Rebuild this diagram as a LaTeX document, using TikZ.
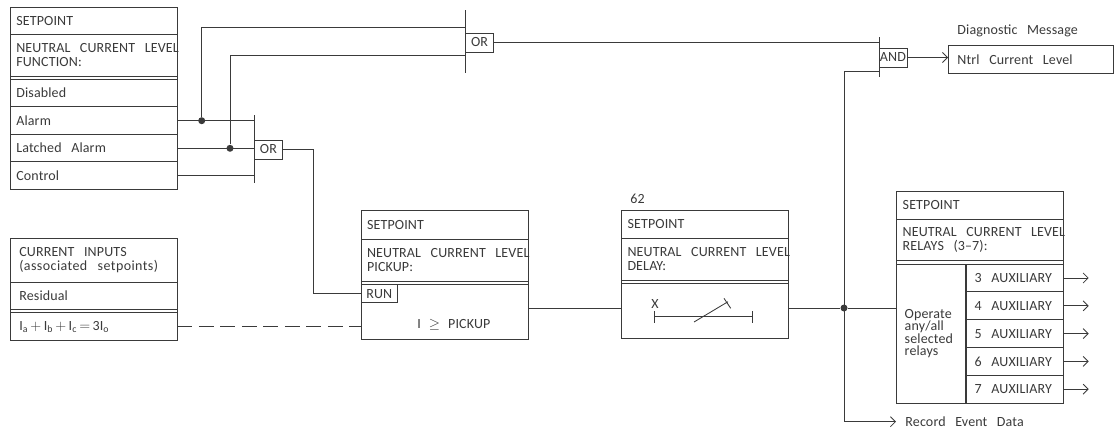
\documentclass[tikz,border=0pt]{standalone}
\usepackage{xcolor}
\usepackage{fontspec}
\setmainfont[WordSpace=2.9,LetterSpace=1]{Carlito}
\usetikzlibrary{arrows.meta,positioning}
\definecolor{Wire}{HTML}{3A3A3A}
\begin{document}
\begin{tikzpicture}[x=1pt,y=-1pt,node distance=0pt,line width=.85pt,draw=Wire,text=Wire,
        n/.style={draw=Wire,text width=155pt,inner xsep=6pt,inner ysep=0pt,outer sep=0pt,align=flush left,font=\fontsize{14}{14}\selectfont,minimum height=27.5pt},
        ci/.style={n,text width=149pt,inner xsep=9pt},
        sp/.style={draw=Wire,minimum width=167pt,minimum height=3.4pt,inner sep=0pt,outer sep=0pt},
        aux/.style={n,text width=81pt,inner xsep=8pt,minimum height=27.8pt},
        g/.style={draw=Wire,minimum width=28pt,minimum height=19pt,inner sep=0pt,outer sep=0pt,font=\fontsize{14}{14}\selectfont},
        t/.style={inner sep=0pt,anchor=west,font=\fontsize{14}{14}\selectfont},
        j/.style={circle,fill=Wire,inner sep=0pt,minimum size=7pt},
        a/.style={-{Straight Barb[length=5pt,width=10pt]}}]
        \useasboundingbox (0,0) rectangle (1119,429);
        \node[n,anchor=north west] (s1) at (10.3,7) {SETPOINT};
        \node[n,minimum height=41.5pt,below=of s1] (s2) {\mbox{NEUTRAL CURRENT LEVEL}\\FUNCTION:};
        \node[sp,below=of s2] (s3) {};
        \node[n,below=of s3] (dis) {Disabled};
        \node[n,below=of dis] (alm) {Alarm};
        \node[n,below=of alm] (lat) {Latched Alarm};
        \node[n,below=of lat] (ctl) {Control};
        \node[ci,minimum height=44pt,anchor=north west] (c1) at (10.3,238) {CURRENT INPUTS\\{\addfontfeature{LetterSpace=3}(associated setpoints)}};
        \node[ci,below=of c1] (c2) {Residual};
        \node[sp,below=of c2] (c3) {};
        \node[ci,below=of c3] (c4) {$\mathrm{I}_{\mathrm{a}}\,{+}\,\mathrm{I}_{\mathrm{b}}\,{+}\,\mathrm{I}_{\mathrm{c}}\,{=}\,\mathrm{3I}_{\mathrm{o}}$};
        \node[n,anchor=north west,minimum height=28.5pt] (p1) at (361,210.5) {SETPOINT};
        \node[n,minimum height=42.5pt,below=of p1] (p2) {\mbox{NEUTRAL CURRENT LEVEL}\\PICKUP:};
        \node[sp,below=of p2] (p3) {};
        \node[n,minimum height=55pt,below=of p3] (p4) {};
        \node[g,minimum width=36.5pt,minimum height=17.5pt,anchor=north west] (run) at (p4.north west) {RUN};
        \node[t] (ipk) at (417,325) {I\hspace{8pt}$\geq$\hspace{8pt}PICKUP};
        \node[n,anchor=north west,minimum height=27.5pt] (d1) at (621.5,210.5) {SETPOINT};
        \node[n,minimum height=42pt,below=of d1] (d2) {\mbox{NEUTRAL CURRENT LEVEL}\\DELAY:};
        \node[sp,below=of d2] (d3) {};
        \node[n,minimum height=55pt,below=of d3] (d4) {};
        \node[t] (n62) at (630,199) {62};
        \node[t,anchor=center] (x) at (655,304) {X};
        \node[n,anchor=north west] (r1) at (896.7,191.7) {SETPOINT};
        \node[n,minimum height=41.5pt,below=of r1] (r2) {\mbox{NEUTRAL CURRENT LEVEL}\\RELAYS (3--7):};
        \node[sp,below=of r2] (r3) {};
        \node[aux,anchor=north east] (a3) at (r3.south east) {3 AUXILIARY};
        \node[aux,below=of a3] (a4) {4 AUXILIARY};
        \node[aux,below=of a4] (a5) {5 AUXILIARY};
        \node[aux,below=of a5] (a6) {6 AUXILIARY};
        \node[aux,below=of a6] (a7) {7 AUXILIARY};
        \node[draw=Wire,outer sep=0pt,inner xsep=8pt,inner ysep=0pt,anchor=north west,minimum width=69.2pt,minimum height=139pt,align=flush left,text width=53.2pt,font=\fontsize{14}{12.5}\selectfont] (op) at (r3.south west) {Operate\\any/all\\selected\\relays};
        \node[draw=Wire,outer sep=0pt,minimum width=165pt,minimum height=28.5pt,inner sep=0pt,anchor=north west] (nt) at (948,45) {};
        \node[t] (ntx) at (957,60) {Ntrl Current Level};
        \node[t] (dg) at (957,31) {Diagnostic Message};
        \node[t] (rec) at (905,421.5) {Record Event Data};
        \node[g] (or1) at (268.5,149.5) {OR};
        \node[g] (or2) at (479.5,42.5) {OR};
        \node[g] (and) at (893,57.5) {AND};
        \node[j] (j1) at (201.7,120.7) {};
        \node[j] (j2) at (230,148.3) {};
        \node[j] (j3) at (844,308) {};
        \coordinate (b1t) at (254.5,115); \coordinate (b1b) at (254.5,183);
        \coordinate (b2t) at (465.5,10); \coordinate (b2b) at (465.5,73);
        \coordinate (b3t) at (879,37); \coordinate (b3b) at (879,77);
        \coordinate (w1) at (201.7,27.7); \coordinate (w2) at (230,55.7);
        \coordinate (w3) at (313,149.5); \coordinate (w4) at (844,71.5);
        \coordinate (w5) at (844,421.7); \coordinate (w6) at (896,421.7);
        \draw (b1t)--(b1b); \draw (b2t)--(b2b); \draw (b3t)--(b3b);
        \draw (alm.east)--(alm.east -| b1t);
        \draw (lat.east)--(lat.east -| b1t);
        \draw (ctl.east)--(ctl.east -| b1t);
        \draw (j1)--(w1)--(w1 -| b2t);
        \draw (j2)--(w2)--(w2 -| b2t);
        \draw (or1.east)--(w3)--(w3 |- run.west)--(run.west);
        \draw (or2.east)--(or2.east -| b3t);
        \draw (w5 -| j3)--(w4)--(w4 -| b3t);
        \draw[a] (and.east)--(nt.west |- and.east);
        \draw[dash pattern=on 15pt off 6.5pt] (c4.east)--(c4.east -| p4.west);
        \draw (j3 -| p4.east)--(j3 -| d4.west);
        \draw (j3 -| d4.east)--(j3)--(j3 -| op.west);
        \draw[a] (w5)--(w6);
        \foreach \r in {a3,a4,a5,a6,a7}
          \draw[a] (\r.east)--++(25,0);
        \draw (654.7,311)--(654.7,322.7) (654.7,316.7)--(752.7,316.7) (752.7,311)--(752.7,322.7);
        \draw (694,322)--(728,301.7) (724,298.3)--(730.7,308.3);
      \end{tikzpicture}
\end{document}
